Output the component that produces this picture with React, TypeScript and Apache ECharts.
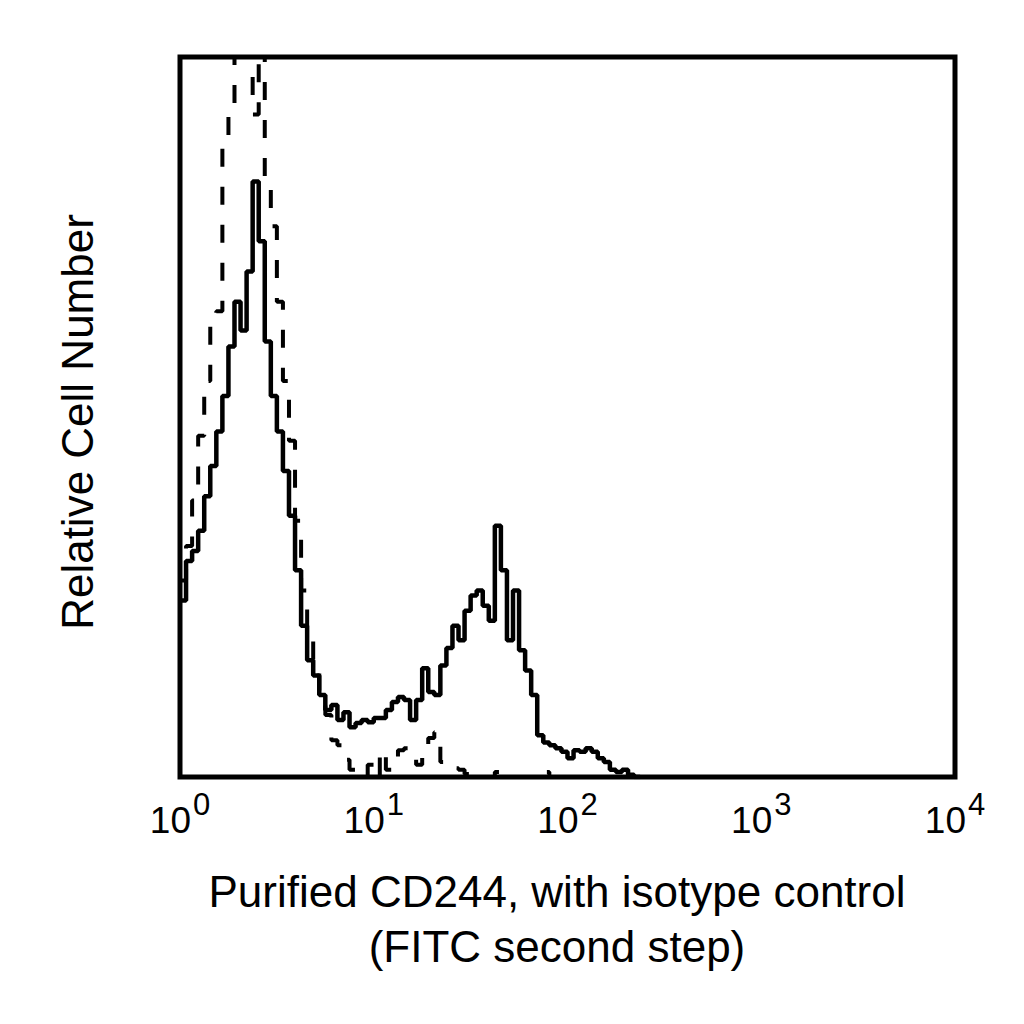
import * as echarts from "echarts"
import { useEffect, useRef } from "react"

// histogram channels, each 1/32 of a decade wide, starting at 10^0
const BIN_WIDTH = 1 / 32

// CD244 stained sample (solid), relative counts, 100 = top of frame
const cd244Counts = [
  24.5, 30, 31.4, 34.2, 39, 43.2, 48, 52.9, 59.8, 66,
  62, 70.2, 82.7, 74.4, 60.5, 52.9, 48, 42.5, 36.3, 28.7,
  21, 16.2, 14.1, 11.4, 9.3, 10, 7.9, 9, 6.9, 7.5,
  7.9, 7.6, 8.2, 8.2, 9.3, 10.4, 11.1, 10.7, 7.9, 10.7,
  15.1, 11.8, 11.4, 15.5, 17.9, 21, 19, 23.1, 25.2, 25.9,
  23.8, 21.7, 34.9, 28.7, 19, 25.9, 17.6, 14.8, 11.4, 5.8,
  4.8, 4.4, 4.0, 3.5, 2.6, 3.7, 3.5, 4.0, 3.5, 2.6,
  2.1, 1.0, 0.7, 1.0, 0.3, 0,
]

// isotype control (dashed)
const isotypeCounts = [
  27.3, 32.1, 38.4, 47.4, 55, 62.6, 64.7, 88.9, 92.4, 104,
  110, 106, 92, 104, 82, 76.5, 66, 55, 46.7, 35.6,
  25.9, 21, 16.2, 12, 8.6, 5.1, 4.4, 2.4, 1, 0.3,
  0, 1.7, 0, 3.7, 1, 2.4, 3.7, 4, 3, 1.7,
  4.4, 5.4, 6.2, 2.1, 1.9, 1.2, 1, 0.4, 0.1, 0,
  0, 0, 0.7, 0, 0, 0, 0, 0, 0, 0,
  0.7, 0,
]

const decadeExponents = ["0", "1", "2", "3", "4"]

const FONT = "'Liberation Sans', Arial, Helvetica, sans-serif"

const toSteps = (counts: number[]) => {
  const pts = counts.map((c, i) => [i * BIN_WIDTH, c])
  pts.push([counts.length * BIN_WIDTH, counts[counts.length - 1]])
  return pts
}

export default function App() {
  const ref = useRef<HTMLDivElement>(null)

  useEffect(() => {
    document.body.style.margin = "0"
    if (!ref.current) return
    const chart = echarts.init(ref.current, undefined, { renderer: "svg" })
    chart.setOption({
      animation: false,
      backgroundColor: "#fff",
      grid: {
        left: 180,
        top: 57,
        right: 69,
        bottom: 247,
        show: true,
        borderColor: "#000",
        borderWidth: 5,
        backgroundColor: "transparent",
      },
      xAxis: {
        type: "value",
        min: 0,
        max: 4,
        interval: 1,
        axisLine: { show: false },
        axisTick: { show: false },
        splitLine: { show: false },
        axisLabel: {
          margin: 12,
          color: "#000",
          fontSize: 37,
          fontFamily: FONT,
          formatter: (_v: number, i: number) => `{b|10}{s|${decadeExponents[i]}}`,
          rich: {
            b: { fontSize: 37, lineHeight: 62, fontFamily: FONT, color: "#000" },
            s: { fontSize: 31, verticalAlign: "top", fontFamily: FONT, color: "#000", padding: [0, 0, 0, 2] },
          },
        },
      },
      yAxis: {
        type: "value",
        min: 0,
        max: 100,
        show: false,
      },
      graphic: [
        {
          type: "text",
          x: 77,
          y: 422,
          rotation: Math.PI / 2,
          style: {
            text: "Relative Cell Number",
            font: `44px ${FONT}`,
            fill: "#000",
            align: "center",
            verticalAlign: "middle",
            textAlign: "center",
            textVerticalAlign: "middle",
          },
        },
        {
          type: "text",
          x: 557,
          y: 891,
          style: {
            text: "Purified CD244, with isotype control",
            font: `44px ${FONT}`,
            fill: "#000",
            align: "center",
            verticalAlign: "middle",
            textAlign: "center",
            textVerticalAlign: "middle",
          },
        },
        {
          type: "text",
          x: 557,
          y: 946,
          style: {
            text: "(FITC second step)",
            font: `44px ${FONT}`,
            fill: "#000",
            align: "center",
            verticalAlign: "middle",
            textAlign: "center",
            textVerticalAlign: "middle",
          },
        },
      ],
      series: [
        {
          name: "Isotype control",
          type: "line",
          step: "end",
          data: toSteps(isotypeCounts),
          symbol: "none",
          clip: true,
          lineStyle: { color: "#000", width: 4, type: [18, 20] },
        },
        {
          name: "Purified CD244",
          type: "line",
          step: "end",
          data: toSteps(cd244Counts),
          symbol: "none",
          clip: true,
          lineStyle: { color: "#000", width: 4.5 },
        },
      ],
    })
    return () => chart.dispose()
  }, [])

  return <div ref={ref} style={{ width: 1024, height: 1024 }} />
}
